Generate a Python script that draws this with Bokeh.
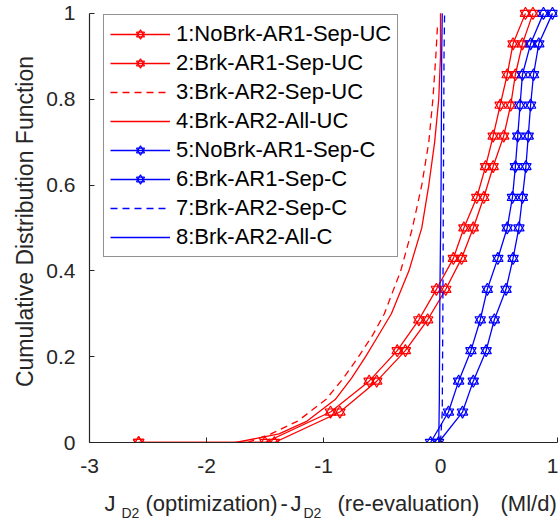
from bokeh.plotting import figure
from bokeh.layouts import column
from bokeh.models import Range1d, FixedTicker, Legend, LegendItem
from bokeh.core.properties import value
from bokeh.embed import file_html
from bokeh.resources import INLINE

# ---------------- data ----------------
x_ticks = [-3, -2, -1, 0, 1]
x_tick_labels = ["-3", "-2", "-1", "0", "1"]
y_ticks = [0, 0.2, 0.4, 0.6, 0.8, 1.0]
y_tick_labels = ["0", "0.2", "0.4", "0.6", "0.8", "1"]

series_names = [
    "1:NoBrk-AR1-Sep-UC", "2:Brk-AR1-Sep-UC", "3:Brk-AR2-Sep-UC", "4:Brk-AR2-All-UC",
    "5:NoBrk-AR1-Sep-C", "6:Brk-AR1-Sep-C", "7:Brk-AR2-Sep-C", "8:Brk-AR2-All-C",
]

# marker series (empirical CDF levels)
cdf_red = [0, 0, 0.071, 0.143, 0.214, 0.286, 0.357, 0.429, 0.5, 0.571, 0.643, 0.714, 0.786, 0.857, 0.929, 1.0]
cdf_blue = [0, 0.071, 0.143, 0.214, 0.286, 0.357, 0.429, 0.5, 0.571, 0.643, 0.714, 0.786, 0.857, 0.929, 1.0]

s1_x = [-2.58, -1.50, -0.94, -0.61, -0.37, -0.185, -0.035, 0.11, 0.20, 0.31, 0.385, 0.45, 0.51, 0.57, 0.62, 0.726]
s2_x = [-2.58, -1.42, -0.86, -0.545, -0.30, -0.11, 0.045, 0.18, 0.28, 0.37, 0.45, 0.54, 0.60, 0.64, 0.70, 0.79]
s5_x = [-0.085, 0.068, 0.155, 0.26, 0.34, 0.40, 0.49, 0.57, 0.615, 0.64, 0.66, 0.68, 0.70, 0.77, 0.88]
s6_x = [-0.017, 0.188, 0.28, 0.39, 0.46, 0.56, 0.62, 0.67, 0.70, 0.73, 0.75, 0.77, 0.795, 0.84, 0.957]

# smooth series
s3_x = [-1.65, -1.45, -1.22, -0.98, -0.83, -0.70, -0.58, -0.48, -0.34, -0.24, -0.16, -0.10, -0.065, -0.04, -0.026]
s3_y = [0.0, 0.02, 0.05, 0.10, 0.15, 0.20, 0.25, 0.30, 0.40, 0.50, 0.60, 0.70, 0.80, 0.90, 0.97]
s4_x = [-1.75, -1.38, -1.14, -0.90, -0.76, -0.64, -0.53, -0.42, -0.27, -0.16, -0.10, -0.05, -0.015, 0.0, 0.0]
s4_y = [0.0, 0.02, 0.05, 0.10, 0.15, 0.20, 0.25, 0.30, 0.40, 0.50, 0.60, 0.70, 0.80, 0.90, 1.0]
s7_x = [0.0, 0.015, 0.02, 0.025, 0.03, 0.035]
s7_y = [0.0, 0.07, 0.30, 0.60, 0.90, 1.0]
s8_x = [-0.015, -0.01, -0.005, 0.005, 0.01, 0.015]
s8_y = [0.0, 0.10, 0.35, 0.60, 0.90, 1.0]

# x-axis title pieces (text, is_subscript)
xlabel_parts = [("J", False), ("D2", True), ("(optimization)", False), ("-", False),
                ("J", False), ("D2", True), ("(re-evaluation)", False), ("(Ml/d)", False)]

RED = "#ff0000"
BLUE = "#0000ff"
AX = "#262626"
FONT = "Liberation Sans"

p = figure(width=558, height=485, x_range=Range1d(-3, 1), y_range=Range1d(0, 1.03),
           output_backend="svg", toolbar_location=None,
           min_border_left=89, min_border_right=1, min_border_top=0, min_border_bottom=43)
p.outline_line_color = None
p.grid.visible = False
p.background_fill_color = "white"
p.border_fill_color = "white"

xa = p.xaxis[0]
xa.bounds = (-3, 1)
xa.ticker = FixedTicker(ticks=x_ticks)
xa.major_label_overrides = {t: l for t, l in zip(x_ticks, x_tick_labels)}
ya = p.yaxis[0]
ya.bounds = (0, 1)
ya.ticker = FixedTicker(ticks=y_ticks)
ya.major_label_overrides = {t: l for t, l in zip(y_ticks, y_tick_labels)}
ya.axis_label = "Cumulative Distribution Function"
ya.axis_label_text_font = FONT
ya.axis_label_text_font_size = "23px"
ya.axis_label_text_font_style = "normal"
ya.axis_label_text_color = AX
ya.axis_label_standoff = 5
for ax in (xa, ya):
    ax.axis_line_color = AX
    ax.axis_line_width = 1.2
    ax.major_tick_line_color = AX
    ax.major_tick_in = 5
    ax.major_tick_out = 0
    ax.minor_tick_in = 0
    ax.minor_tick_out = 0
    ax.major_label_text_font = FONT
    ax.major_label_text_font_size = "21px"
    ax.major_label_text_color = AX
xa.major_label_standoff = 16
ya.major_label_standoff = 14


def marker_series(xs, ys, color):
    r_line = p.line(xs, ys, line_color=color, line_width=1.3)
    r_a = p.scatter(xs, ys, marker="triangle", size=10.5, fill_color=None, line_color=color, line_width=1.2)
    r_b = p.scatter(xs, ys, marker="inverted_triangle", size=10.5, fill_color=None, line_color=color, line_width=1.2)
    return [r_line, r_a, r_b]


renderers = []
renderers.append(marker_series(s1_x, cdf_red, RED))
renderers.append(marker_series(s2_x, cdf_red, RED))
renderers.append([p.line(s3_x, s3_y, line_color=RED, line_width=1.3, line_dash="7 5")])
renderers.append([p.line(s4_x, s4_y, line_color=RED, line_width=1.3)])
renderers.append(marker_series(s5_x, cdf_blue, BLUE))
renderers.append(marker_series(s6_x, cdf_blue, BLUE))
renderers.append([p.line(s7_x, s7_y, line_color=BLUE, line_width=1.3, line_dash="7 5")])
renderers.append([p.line(s8_x, s8_y, line_color=BLUE, line_width=1.3)])

items = [LegendItem(label=n, renderers=r) for n, r in zip(series_names, renderers)]
legend = Legend(items=items, location=(14, 185), glyph_width=60, glyph_height=20, label_height=20,
                spacing=3, padding=6, label_standoff=6, margin=0,
                border_line_color=AX, border_line_width=1.5,
                label_text_font=FONT, label_text_font_size="22px", label_text_color="#000000",
                background_fill_color="white", background_fill_alpha=1.0)
p.add_layout(legend)

# strip below the chart carrying the x-axis title (with subscripts);
# its frame is given the same borders as the chart, and its x range is in page pixels
p2 = figure(width=558, height=34, x_range=Range1d(89, 557), y_range=Range1d(0, 34),
            output_backend="svg", toolbar_location=None,
            x_axis_location=None, y_axis_location=None,
            min_border_left=89, min_border_right=1, min_border_top=0, min_border_bottom=0)
p2.outline_line_color = None
p2.grid.visible = False
main_x, main_txt, sub_x, sub_txt = [], [], [], []
starts = [104, 121, 145, 280, 290, 303, 337, 500]
for (txt, is_sub), sx in zip(xlabel_parts, starts):
    if is_sub:
        sub_x.append(sx); sub_txt.append(txt)
    else:
        main_x.append(sx); main_txt.append(txt)
p2.text(x=main_x, y=[16] * len(main_x), text=main_txt, text_font=value(FONT), text_font_size="22px",
        text_color=AX, text_align="left", text_baseline="alphabetic")
p2.text(x=sub_x, y=[7] * len(sub_x), text=sub_txt, text_font=value(FONT), text_font_size="14px",
        text_color=AX, text_align="left", text_baseline="alphabetic")

layout = column(p, p2, spacing=0)
open("out.html", "w").write(file_html(layout, INLINE))
